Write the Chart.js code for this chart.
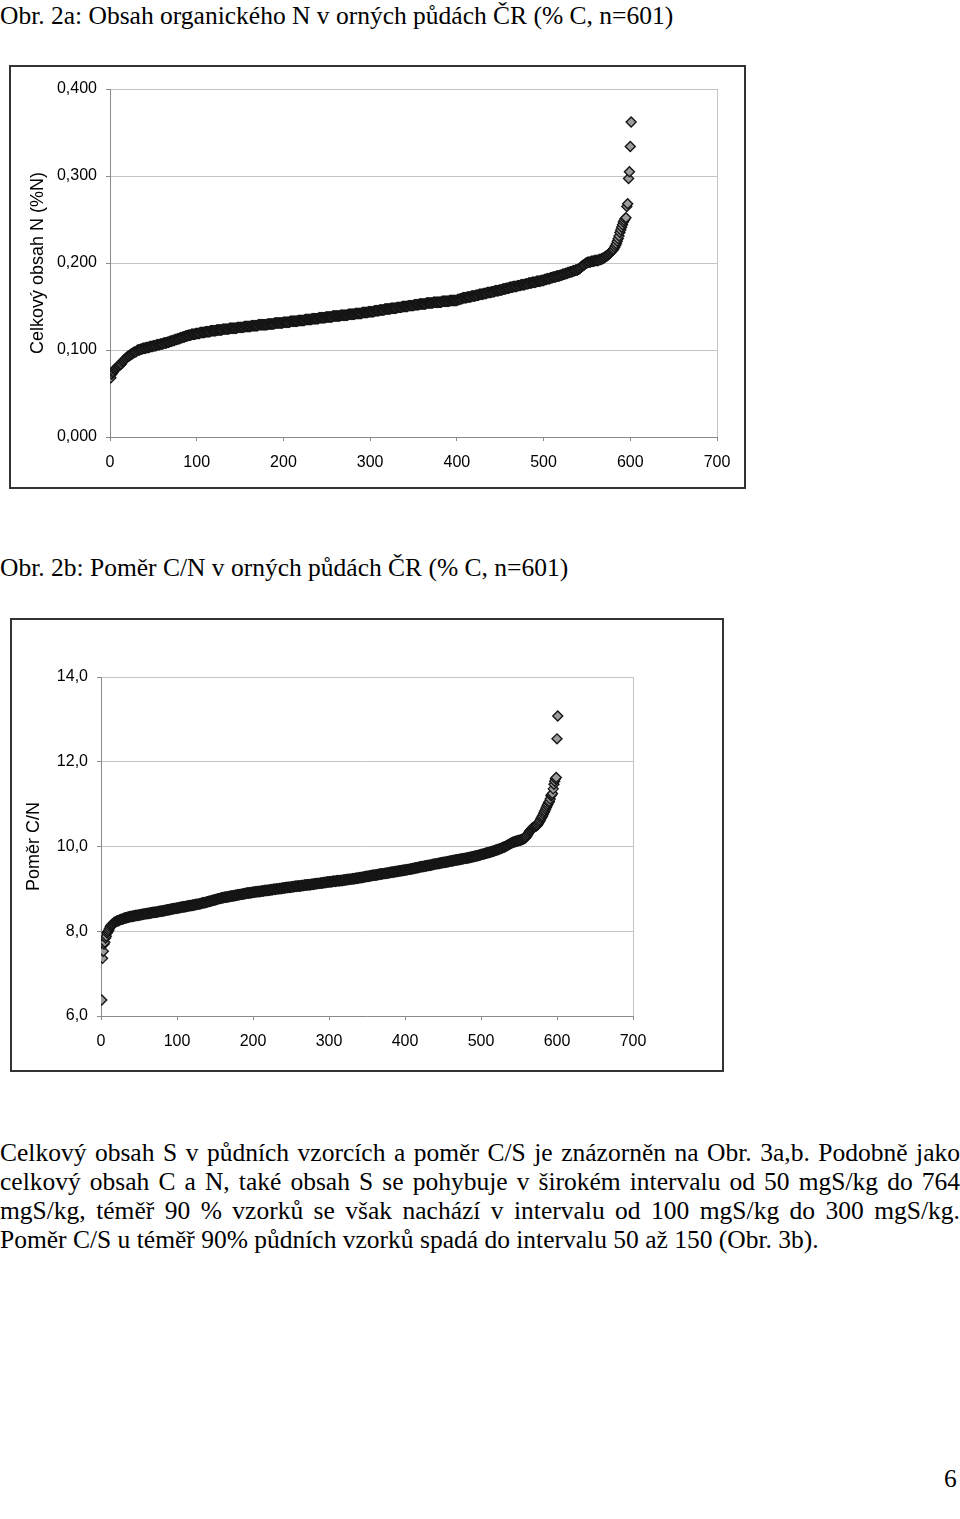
<!DOCTYPE html>
<html>
<head>
<meta charset="utf-8">
<script src="https://cdn.jsdelivr.net/npm/chart.js@4/dist/chart.umd.min.js"></script>
<style>
  body { margin: 0; background: #fff; }
  #page { position: relative; width: 960px; height: 1519px; overflow: hidden; background: #fff; }
  .serif { position: absolute; left: 0; font-family: 'Liberation Serif', 'Times New Roman', serif; font-size: 25.5px; line-height: 29px; color: #000; white-space: nowrap; }
  .just { width: 960px; text-align: justify; text-align-last: justify; white-space: normal; }
  .frame { position: absolute; box-sizing: border-box; border: 2px solid #333; background: #fff; }
  .frame canvas { display: block; }
</style>
</head>
<body>
<div id="page">
  <div class="serif" style="top:1px;">Obr. 2a: Obsah organického N v orných půdách ČR (% C, n=601)</div>
  <div class="frame" style="left:9px; top:65px; width:737px; height:424px;">
    <canvas id="chartN" width="733" height="420"></canvas>
  </div>

  <div class="serif" style="top:553px;">Obr. 2b: Poměr C/N v orných půdách ČR (% C, n=601)</div>
  <div class="frame" style="left:10px; top:618px; width:714px; height:454px;">
    <canvas id="chartCN" width="710" height="450"></canvas>
  </div>

  <div class="serif just" style="top:1138px;">Celkový obsah S v půdních vzorcích a poměr C/S je znázorněn na Obr. 3a,b. Podobně jako</div>
  <div class="serif just" style="top:1167px;">celkový obsah C a N, také obsah S se pohybuje v širokém intervalu od 50 mgS/kg do 764</div>
  <div class="serif just" style="top:1196px;">mgS/kg, téměř 90 % vzorků se však nachází v intervalu od 100 mgS/kg do 300 mgS/kg.</div>
  <div class="serif" style="top:1225px;">Poměr C/S u téměř 90% půdních vzorků spadá do intervalu 50 až 150 (Obr. 3b).</div>

  <div class="serif" style="top:1464px; left:944px;">6</div>
</div>

<script>
// Obr. 2a - celkovy obsah N (%N), 601 vzorku serazenych vzestupne
const nContent = [
  .068,.072,.074,.075,.077,.078,.079,.080,.081,.082,.083,.083,.084,.086,.087,.088,.089,.090,.091,.092,
  .093,.093,.094,.095,.095,.096,.097,.097,.098,.098,.099,.100,.100,.100,.101,.101,.101,.102,.102,.102,
  .102,.103,.103,.103,.103,.104,.104,.104,.104,.105,.105,.105,.105,.106,.106,.106,.106,.107,.107,.107,
  .107,.108,.108,.108,.108,.109,.109,.109,.110,.110,.110,.111,.111,.111,.112,.112,.112,.113,.113,.113,
  .114,.114,.114,.115,.115,.115,.116,.116,.116,.117,.117,.117,.117,.118,.118,.118,.118,.118,.119,.119,
  .119,.119,.119,.120,.120,.120,.120,.120,.120,.121,.121,.121,.121,.121,.121,.122,.122,.122,.122,.122,
  .122,.122,.123,.123,.123,.123,.123,.123,.123,.124,.124,.124,.124,.124,.124,.124,.124,.125,.125,.125,
  .125,.125,.125,.125,.125,.125,.126,.126,.126,.126,.126,.126,.126,.126,.127,.127,.127,.127,.127,.127,
  .127,.127,.128,.128,.128,.128,.128,.128,.128,.128,.129,.129,.129,.129,.129,.129,.129,.129,.129,.129,
  .129,.130,.130,.130,.130,.130,.130,.130,.130,.131,.131,.131,.131,.131,.131,.131,.131,.131,.131,.132,
  .132,.132,.132,.132,.132,.132,.132,.133,.133,.133,.133,.133,.133,.133,.133,.133,.134,.134,.134,.134,
  .134,.134,.134,.134,.135,.135,.135,.135,.135,.135,.135,.135,.136,.136,.136,.136,.136,.136,.136,.136,
  .137,.137,.137,.137,.137,.137,.137,.137,.138,.138,.138,.138,.138,.138,.138,.138,.139,.139,.139,.139,
  .139,.139,.139,.139,.139,.140,.140,.140,.140,.140,.140,.140,.140,.140,.141,.141,.141,.141,.141,.141,
  .141,.141,.142,.142,.142,.142,.142,.142,.142,.142,.143,.143,.143,.143,.143,.143,.143,.144,.144,.144,
  .144,.144,.144,.144,.145,.145,.145,.145,.145,.145,.146,.146,.146,.146,.146,.146,.147,.147,.147,.147,
  .147,.147,.147,.148,.148,.148,.148,.148,.148,.148,.149,.149,.149,.149,.149,.149,.150,.150,.150,.150,
  .150,.150,.150,.151,.151,.151,.151,.151,.151,.151,.152,.152,.152,.152,.152,.152,.153,.153,.153,.153,
  .153,.153,.153,.153,.154,.154,.154,.154,.154,.154,.154,.154,.155,.155,.155,.155,.155,.155,.155,.155,
  .155,.155,.156,.156,.156,.156,.156,.156,.156,.156,.156,.157,.157,.157,.157,.157,.157,.157,.157,.157,
  .158,.158,.158,.159,.159,.159,.160,.160,.160,.160,.160,.161,.161,.161,.161,.161,.162,.162,.162,.162,
  .162,.163,.163,.163,.163,.164,.164,.164,.164,.164,.165,.165,.165,.165,.166,.166,.166,.166,.166,.167,
  .167,.167,.167,.168,.168,.168,.168,.168,.169,.169,.169,.169,.170,.170,.170,.170,.171,.171,.171,.171,
  .172,.172,.172,.172,.173,.173,.173,.173,.173,.174,.174,.174,.174,.175,.175,.175,.175,.175,.176,.176,
  .176,.176,.177,.177,.177,.177,.178,.178,.178,.178,.178,.179,.179,.179,.179,.179,.180,.180,.180,.180,
  .181,.181,.181,.182,.182,.182,.182,.183,.183,.183,.184,.184,.184,.184,.185,.185,.185,.185,.186,.186,
  .186,.187,.187,.187,.188,.188,.188,.189,.189,.189,.190,.190,.190,.191,.191,.191,.192,.192,.192,.193,
  .193,.194,.195,.196,.197,.197,.198,.199,.200,.200,.201,.201,.201,.201,.202,.202,.202,.202,.203,.203,
  .203,.203,.203,.204,.204,.204,.205,.205,.206,.206,.207,.208,.208,.209,.210,.211,.212,.213,.214,.215,
  .216,.218,.220,.222,.225,.228,.231,.235,.238,.241,.244,.247,.249,.251,.252,.265,.268,.297,.305,.334,.362
];

// Obr. 2b - pomer C/N, 601 vzorku serazenych vzestupne
const cnRatio = [
  6.38,7.36,7.53,7.70,7.74,7.84,7.88,7.96,7.99,8.02,8.06,8.10,8.13,8.15,8.17,8.18,8.20,8.21,8.22,8.23,
  8.24,8.25,8.25,8.26,8.27,8.28,8.28,8.29,8.29,8.30,8.31,8.31,8.32,8.32,8.33,8.33,8.34,8.34,8.35,8.35,
  8.35,8.36,8.36,8.36,8.37,8.37,8.37,8.38,8.38,8.38,8.39,8.39,8.39,8.40,8.40,8.40,8.41,8.41,8.41,8.42,
  8.42,8.42,8.42,8.43,8.43,8.43,8.44,8.44,8.44,8.45,8.45,8.45,8.45,8.46,8.46,8.46,8.47,8.47,8.47,8.48,
  8.48,8.48,8.49,8.49,8.49,8.50,8.50,8.51,8.51,8.51,8.52,8.52,8.52,8.53,8.53,8.53,8.54,8.54,8.54,8.55,
  8.55,8.55,8.56,8.56,8.56,8.57,8.57,8.57,8.58,8.58,8.58,8.59,8.59,8.59,8.60,8.60,8.60,8.61,8.61,8.61,
  8.62,8.62,8.62,8.63,8.63,8.63,8.64,8.64,8.64,8.65,8.65,8.66,8.66,8.67,8.67,8.67,8.68,8.68,8.69,8.69,
  8.70,8.70,8.71,8.71,8.72,8.72,8.73,8.73,8.74,8.74,8.75,8.75,8.76,8.76,8.77,8.77,8.78,8.78,8.79,8.79,
  8.79,8.80,8.80,8.80,8.81,8.81,8.81,8.82,8.82,8.82,8.83,8.83,8.83,8.84,8.84,8.84,8.85,8.85,8.85,8.86,
  8.86,8.86,8.87,8.87,8.87,8.88,8.88,8.88,8.89,8.89,8.89,8.90,8.90,8.90,8.90,8.91,8.91,8.91,8.92,8.92,
  8.92,8.92,8.93,8.93,8.93,8.93,8.94,8.94,8.94,8.94,8.95,8.95,8.95,8.95,8.96,8.96,8.96,8.96,8.97,8.97,
  8.97,8.97,8.98,8.98,8.98,8.98,8.99,8.99,8.99,8.99,9.00,9.00,9.00,9.00,9.01,9.01,9.01,9.01,9.02,9.02,
  9.02,9.02,9.03,9.03,9.03,9.03,9.04,9.04,9.04,9.04,9.05,9.05,9.05,9.05,9.06,9.06,9.06,9.06,9.07,9.07,
  9.07,9.07,9.07,9.08,9.08,9.08,9.08,9.09,9.09,9.09,9.09,9.10,9.10,9.10,9.10,9.10,9.11,9.11,9.11,9.11,
  9.12,9.12,9.12,9.12,9.13,9.13,9.13,9.13,9.14,9.14,9.14,9.14,9.15,9.15,9.15,9.15,9.16,9.16,9.16,9.16,
  9.17,9.17,9.17,9.17,9.18,9.18,9.18,9.18,9.18,9.19,9.19,9.19,9.19,9.19,9.20,9.20,9.20,9.20,9.21,9.21,
  9.21,9.21,9.22,9.22,9.22,9.22,9.23,9.23,9.23,9.23,9.24,9.24,9.24,9.24,9.25,9.25,9.25,9.25,9.26,9.26,
  9.26,9.27,9.27,9.27,9.28,9.28,9.28,9.29,9.29,9.29,9.30,9.30,9.30,9.31,9.31,9.31,9.32,9.32,9.32,9.32,
  9.33,9.33,9.33,9.34,9.34,9.34,9.35,9.35,9.35,9.35,9.36,9.36,9.36,9.37,9.37,9.37,9.37,9.38,9.38,9.38,
  9.39,9.39,9.39,9.40,9.40,9.40,9.41,9.41,9.41,9.41,9.42,9.42,9.42,9.43,9.43,9.43,9.44,9.44,9.44,9.44,
  9.45,9.45,9.45,9.46,9.46,9.46,9.47,9.47,9.47,9.48,9.48,9.48,9.49,9.49,9.50,9.50,9.50,9.51,9.51,9.52,
  9.52,9.52,9.53,9.53,9.53,9.54,9.54,9.54,9.55,9.55,9.55,9.56,9.56,9.56,9.57,9.57,9.58,9.58,9.58,9.59,
  9.59,9.59,9.60,9.60,9.60,9.61,9.61,9.61,9.62,9.62,9.62,9.63,9.63,9.63,9.64,9.64,9.64,9.65,9.65,9.66,
  9.66,9.66,9.67,9.67,9.67,9.68,9.68,9.68,9.69,9.69,9.69,9.70,9.70,9.70,9.71,9.71,9.71,9.72,9.72,9.72,
  9.73,9.73,9.73,9.74,9.74,9.74,9.75,9.75,9.76,9.76,9.77,9.77,9.77,9.78,9.78,9.79,9.79,9.80,9.80,9.81,
  9.81,9.82,9.82,9.83,9.83,9.84,9.84,9.85,9.85,9.86,9.86,9.87,9.87,9.88,9.88,9.89,9.90,9.90,9.91,9.92,
  9.92,9.93,9.93,9.94,9.95,9.95,9.96,9.97,9.98,9.98,9.99,10.00,10.01,10.02,10.03,10.04,10.05,10.06,10.07,10.08,
  10.09,10.10,10.10,10.11,10.12,10.12,10.13,10.13,10.14,10.14,10.15,10.15,10.16,10.17,10.17,10.18,10.19,10.20,10.22,10.24,
  10.27,10.30,10.33,10.36,10.38,10.40,10.42,10.44,10.45,10.46,10.47,10.48,10.49,10.50,10.53,10.56,10.59,10.62,10.66,10.69,
  10.72,10.76,10.80,10.84,10.88,10.92,10.96,11.00,11.04,11.06,11.12,11.20,11.22,11.25,11.36,11.47,11.54,11.60,11.63,12.54,13.08
];

const xTicks = [0, 100, 200, 300, 400, 500, 600, 700];
const nTicks = [0, 0.1, 0.2, 0.3, 0.4];
const cnTicks = [6, 8, 10, 12, 14];

Chart.defaults.font.family = "'Liberation Sans', Arial, sans-serif";
Chart.defaults.color = '#000';

function makeChart(id, values, yTicks, decimals, yTitle, box) {
  const ctx = document.getElementById(id).getContext('2d');
  const points = values.map((v, i) => ({ x: i + 1, y: v }));
  const fmt = v => v.toFixed(decimals).replace('.', ',');

  return new Chart(ctx, {
    type: 'scatter',
    data: {
      datasets: [{
        data: points,
        pointStyle: 'rectRot',
        pointRadius: 5,
        pointBackgroundColor: '#9c9c9c',
        pointBorderColor: '#151515',
        pointBorderWidth: 1.4
      }]
    },
    options: {
      responsive: false,
      animation: false,
      devicePixelRatio: 1,
      layout: { padding: { top: box.top, right: box.right, left: 0, bottom: 0 } },
      plugins: { legend: { display: false }, tooltip: { enabled: false } },
      scales: {
        x: {
          type: 'linear',
          min: xTicks[0],
          max: xTicks[xTicks.length - 1],
          afterBuildTicks: s => { s.ticks = xTicks.map(v => ({ value: v })); },
          afterFit: s => { s.height = box.xHeight; },
          ticks: { font: { size: 16 }, padding: 12, callback: v => String(v) },
          grid: {
            color: c => (c.tick && c.tick.value === xTicks[xTicks.length - 1]) ? '#c4c4c4' : 'rgba(0,0,0,0)',
            tickColor: '#8a8a8a',
            tickLength: 4
          },
          border: { color: '#8a8a8a' }
        },
        y: {
          type: 'linear',
          min: yTicks[0],
          max: yTicks[yTicks.length - 1],
          afterBuildTicks: s => { s.ticks = yTicks.map(v => ({ value: v })); },
          afterFit: s => { s.width = box.yWidth; },
          ticks: { font: { size: 16 }, padding: 9, callback: v => fmt(v) },
          grid: { color: '#c4c4c4', tickColor: '#8a8a8a', tickLength: 4 },
          border: { color: '#8a8a8a' },
          title: {
            display: true,
            text: yTitle,
            font: { size: 18 },
            color: '#000',
            padding: { top: box.titlePad, bottom: 0 }
          }
        }
      }
    }
  });
}

makeChart('chartN', nContent, nTicks, 3, 'Celkový obsah N (%N)',
  { top: 22, right: 27, xHeight: 50, yWidth: 99, titlePad: 16 });
makeChart('chartCN', cnRatio, cnTicks, 1, 'Poměr C/N',
  { top: 57, right: 89, xHeight: 54, yWidth: 89, titlePad: 11 });
</script>
</body>
</html>
